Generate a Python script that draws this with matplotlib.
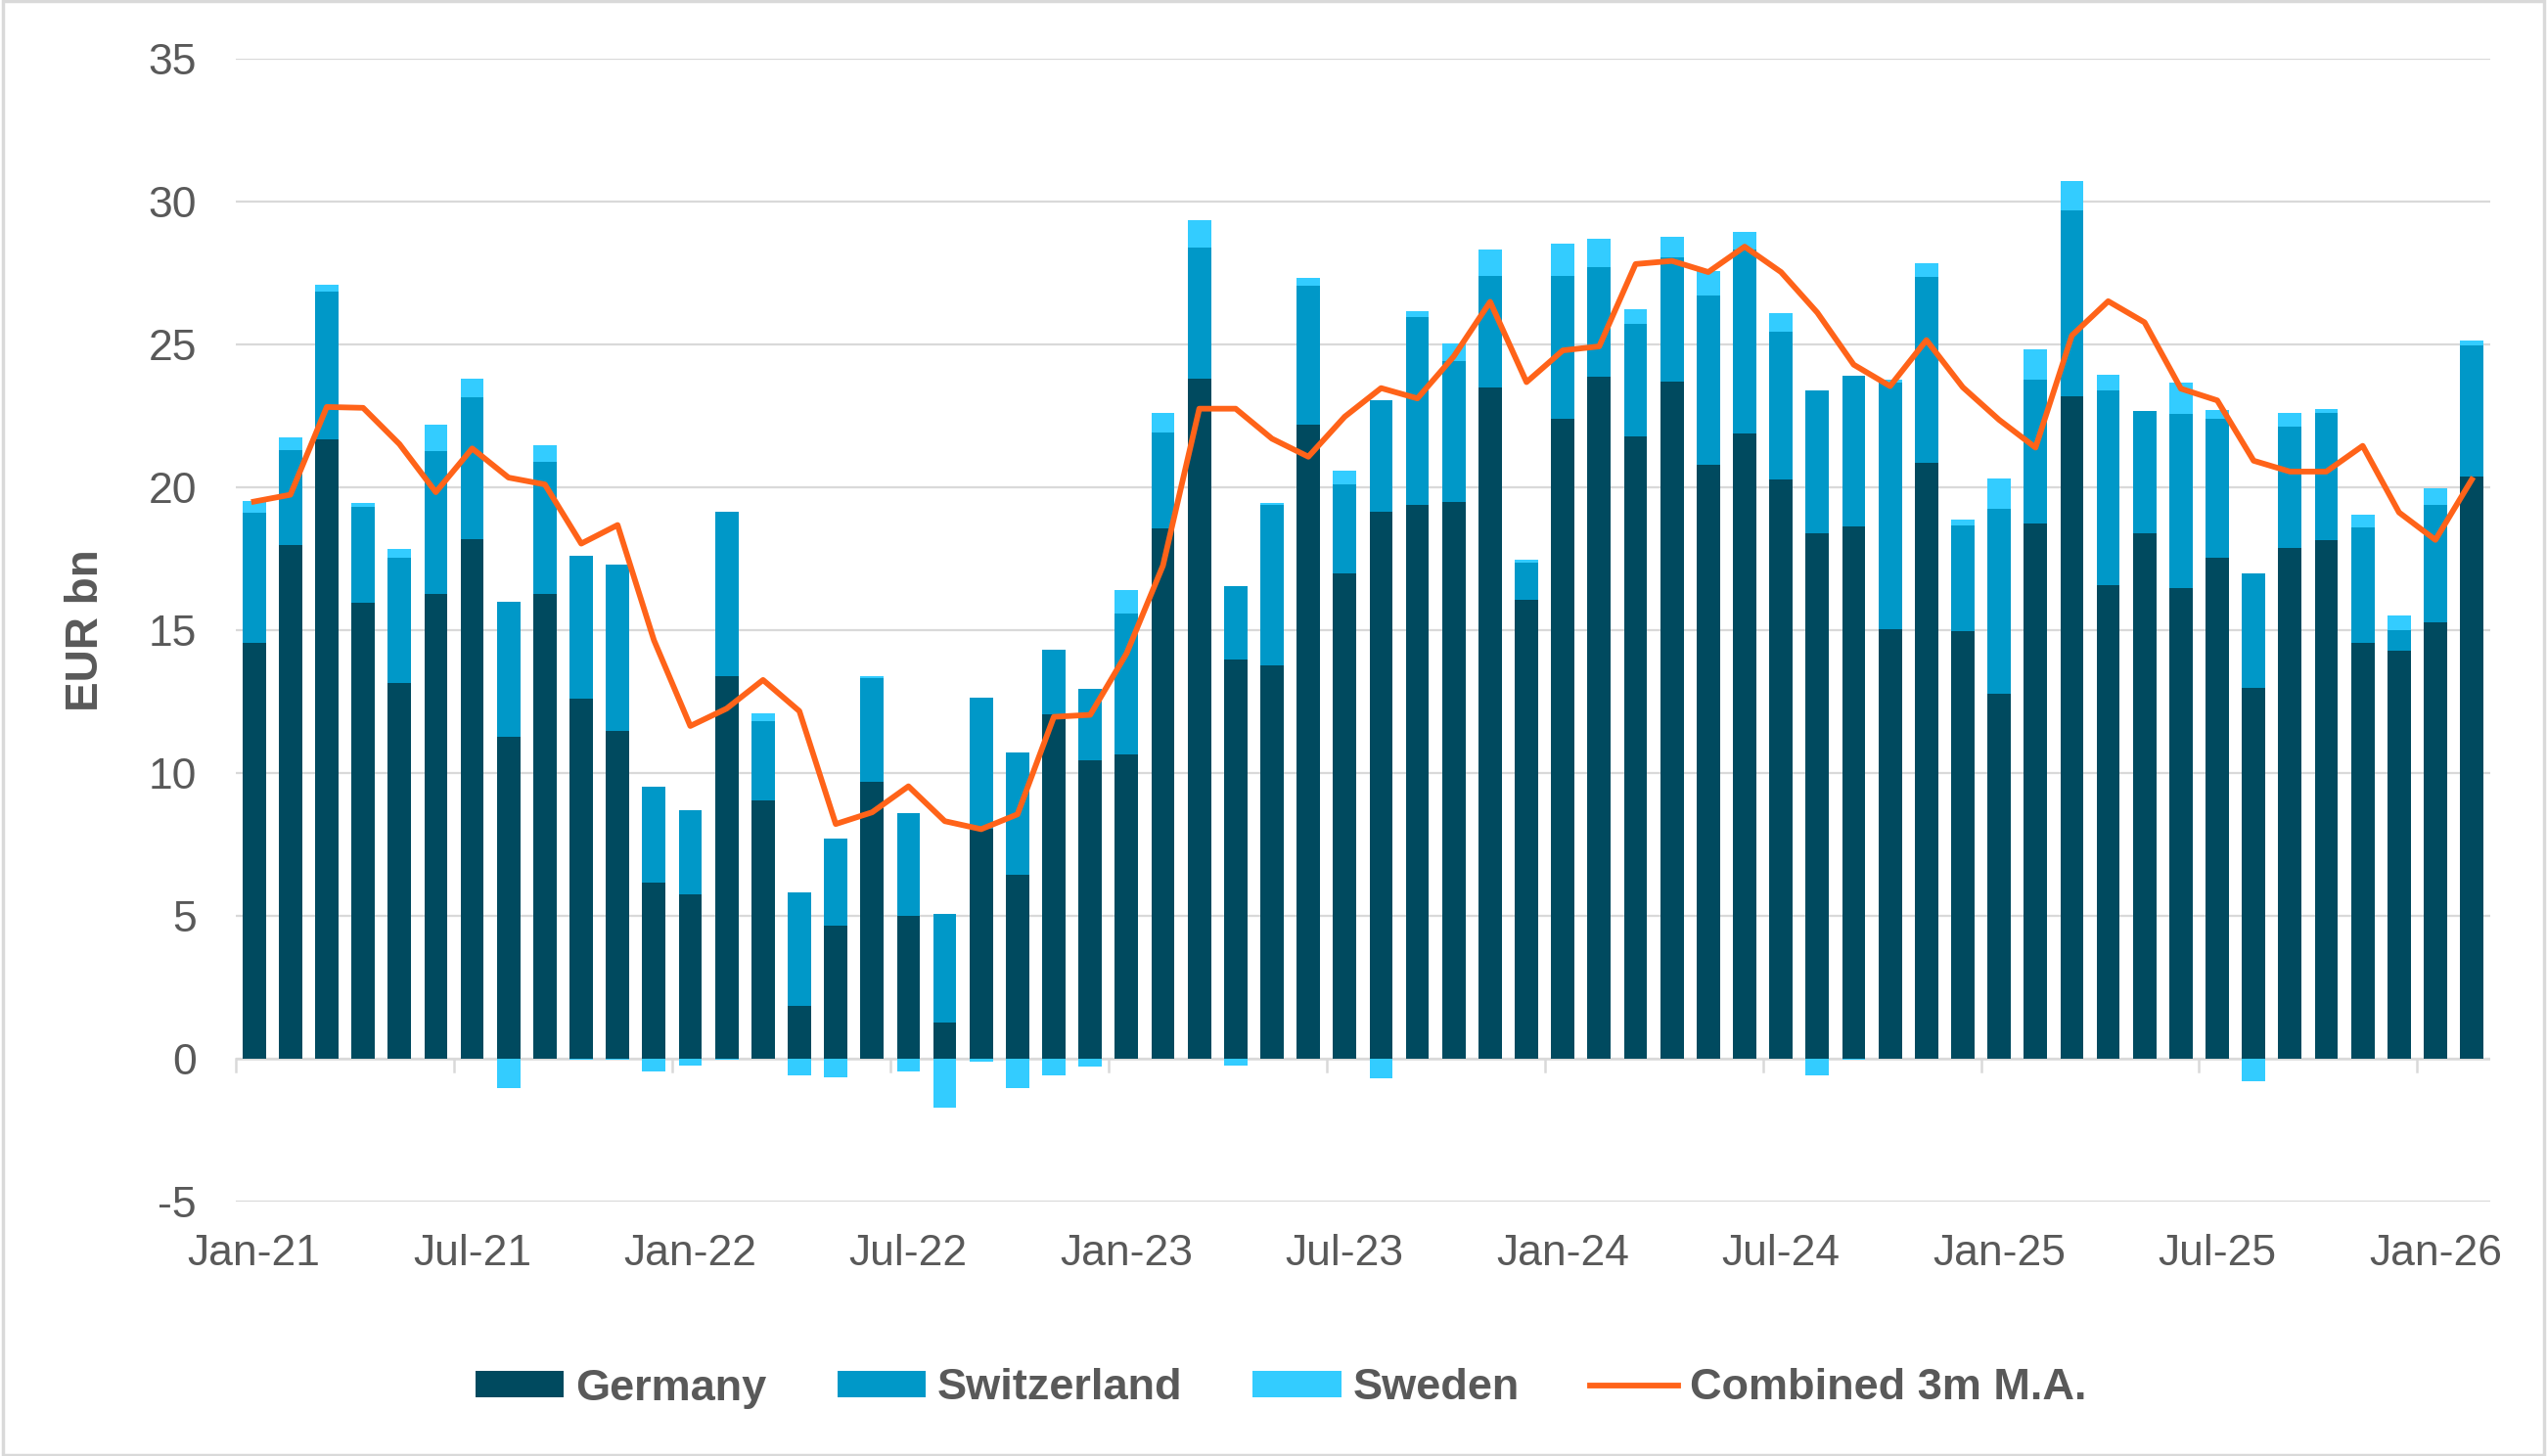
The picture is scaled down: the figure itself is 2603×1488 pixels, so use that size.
import numpy as np
import matplotlib
matplotlib.use('Agg')
import matplotlib.pyplot as plt
from matplotlib.patches import Rectangle

plt.rcParams['font.family'] = ['Liberation Sans', 'DejaVu Sans']
plt.rcParams['axes.unicode_minus'] = False

# monthly values, Jan-21 .. Feb-26 (EUR bn)
germany = [14.55, 17.97, 21.67, 15.94, 13.15, 16.26, 18.19, 11.27, 16.26, 12.58,
           11.48, 6.17, 5.76, 13.37, 9.05, 1.86, 4.67, 9.67, 5.01, 1.25,
           8.03, 6.44, 12.05, 10.44, 10.66, 18.56, 23.78, 13.98, 13.77, 22.19,
           16.97, 19.15, 19.38, 19.47, 23.49, 16.07, 22.40, 23.87, 21.78, 23.69,
           20.79, 21.87, 20.26, 18.38, 18.63, 15.04, 20.85, 14.95, 12.78, 18.74,
           23.17, 16.56, 18.38, 16.47, 17.54, 12.96, 17.88, 18.15, 14.55, 14.27,
           15.27, 20.38]
switzerland = [4.55, 3.32, 5.17, 3.37, 4.38, 4.99, 4.94, 4.73, 4.62, 5.03,
               5.79, 3.36, 2.95, 5.76, 2.75, 3.95, 3.02, 3.65, 3.57, 3.81,
               4.59, 4.27, 2.25, 2.49, 4.93, 3.34, 4.58, 2.54, 5.61, 4.86,
               3.11, 3.90, 6.56, 4.92, 3.88, 1.29, 4.97, 3.81, 3.93, 4.36,
               5.92, 6.45, 5.18, 4.99, 5.26, 8.63, 6.49, 3.70, 6.46, 5.02,
               6.51, 6.83, 4.27, 6.09, 4.86, 4.01, 4.22, 4.45, 4.04, 0.71,
               4.11, 4.58]
sweden = [0.42, 0.46, 0.22, 0.14, 0.32, 0.92, 0.67, -1.04, 0.57, -0.05,
          -0.05, -0.45, -0.23, -0.03, 0.27, -0.57, -0.64, 0.07, -0.45, -1.70,
          -0.10, -1.04, -0.57, -0.29, 0.82, 0.70, 0.96, -0.23, 0.05, 0.27,
          0.50, -0.70, 0.20, 0.62, 0.95, 0.11, 1.15, 1.02, 0.52, 0.72,
          0.86, 0.61, 0.63, -0.57, -0.05, 0.08, 0.48, 0.21, 1.07, 1.06,
          1.02, 0.53, 0.00, 1.08, 0.31, -0.79, 0.48, 0.14, 0.43, 0.52,
          0.59, 0.18]
combined_3m = [19.49, 19.73, 22.80, 22.77, 21.50, 19.82, 21.35, 20.33, 20.09, 18.02,
               18.67, 14.64, 11.64, 12.25, 13.25, 12.16, 8.21, 8.62, 9.53, 8.31,
               8.03, 8.55, 11.96, 12.03, 14.18, 17.25, 22.74, 22.74, 21.69, 21.06,
               22.46, 23.46, 23.10, 24.57, 26.48, 23.67, 24.78, 24.92, 27.80, 27.91,
               27.52, 28.41, 27.52, 26.10, 24.28, 23.53, 25.14, 23.49, 22.35, 21.38,
               25.30, 26.50, 25.76, 23.44, 23.03, 20.92, 20.54, 20.54, 21.44, 19.11,
               18.15, 20.26]
tick_labels = ['Jan-21', 'Jul-21', 'Jan-22', 'Jul-22', 'Jan-23', 'Jul-23',
               'Jan-24', 'Jul-24', 'Jan-25', 'Jul-25', 'Jan-26']

c_de = '#004A5F'
c_ch = '#0098C8'
c_se = '#33CCFF'
c_ma = '#FF6319'
grey = '#595959'
grid = '#D9D9D9'

x = np.arange(len(germany))
de = np.array(germany)
ch = np.array(switzerland)
se = np.array(sweden)
se_bottom = np.where(se >= 0, de + ch, 0.0)

fig = plt.figure(figsize=(26.03, 14.88), dpi=100)
ax = fig.add_axes([0.0926, 0.1747, 0.885, 0.7853])

w = 0.64
b1 = ax.bar(x, de, w, color=c_de, label='Germany', zorder=2)
b2 = ax.bar(x, ch, w, bottom=de, color=c_ch, label='Switzerland', zorder=2)
b3 = ax.bar(x, se, w, bottom=se_bottom, color=c_se, label='Sweden', zorder=2)
l1, = ax.plot(x, combined_3m, color=c_ma, lw=4.2, label='Combined 3m M.A.', zorder=3,
              solid_joinstyle='round')

ax.set_xlim(-0.5, len(x) - 0.5)
ax.set_ylim(-5, 35)
ax.set_yticks(np.arange(-5, 36, 5))
for v in np.arange(-5, 36, 5):
    ax.axhline(v, color=grid, lw=1.6, zorder=1)
# category axis at zero with tick marks between categories
ax.axhline(0, color=grid, lw=1.8, zorder=1.5)
for t in np.arange(-0.5, len(x), 6):
    ax.plot([t, t], [0, -0.45], color=grid, lw=1.8, zorder=1.5, clip_on=False)

ax.set_xticks(x[::6])
ax.set_xticklabels(tick_labels)
ax.tick_params(axis='x', length=0, pad=24, labelsize=32, labelcolor=grey)
ax.tick_params(axis='y', length=0, pad=29, labelsize=32, labelcolor=grey)
for s in ax.spines.values():
    s.set_visible(False)

ax.set_ylabel('EUR bn', fontsize=33, fontweight='bold', color=grey)
ax.yaxis.set_label_coords(-0.0569, 0.5)

leg = fig.legend([b1, b2, b3, l1],
                 ['Germany', 'Switzerland', 'Sweden', 'Combined 3m M.A.'],
                 loc='center', bbox_to_anchor=(0.503, 1 - 1419 / 1488),
                 ncol=4, frameon=False, fontsize=32.5, handlelength=2.0,
                 handleheight=0.55, handletextpad=0.26, columnspacing=1.6)
for t in leg.get_texts():
    t.set_color(grey)
    t.set_fontweight('bold')

fig.patches.append(Rectangle((0.001, 0.001), 0.998, 0.998, transform=fig.transFigure,
                             fill=False, edgecolor=grid, lw=2.5))

fig.savefig('out.png', dpi=100)
